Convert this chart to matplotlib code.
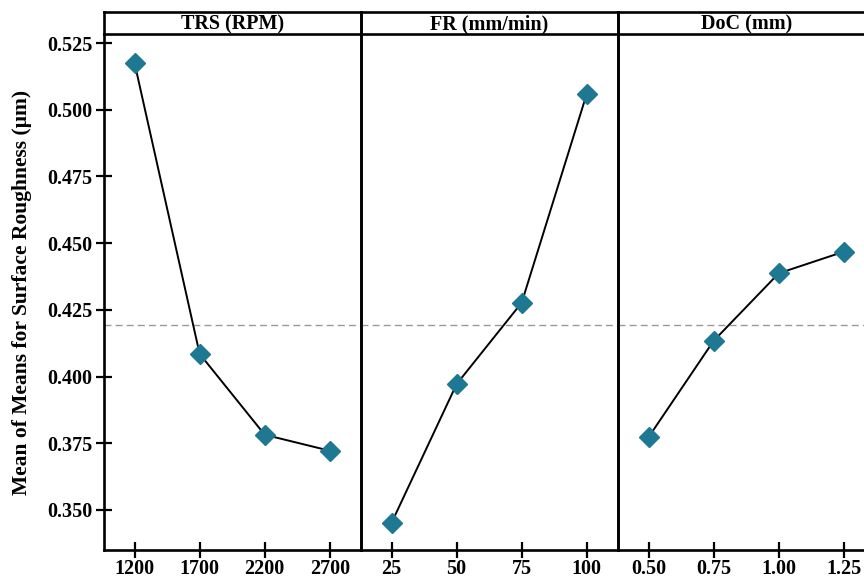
import numpy as np
import matplotlib.pyplot as plt

plt.rcParams['font.family'] = ['Liberation Serif', 'DejaVu Serif']
plt.rcParams['font.weight'] = 'bold'

# Main effects data (means of means)
factors = ['TRS (RPM)', 'FR (mm/min)', 'DoC (mm)']
trs_levels = ['1200', '1700', '2200', '2700']
trs_means = [0.5175, 0.4085, 0.3782, 0.3722]
fr_levels = ['25', '50', '75', '100']
fr_means = [0.3452, 0.3972, 0.4277, 0.5060]
doc_levels = ['0.50', '0.75', '1.00', '1.25']
doc_means = [0.3773, 0.4134, 0.4387, 0.4468]
grand_mean = 0.4193

levels = [trs_levels, fr_levels, doc_levels]
means = [trs_means, fr_means, doc_means]

W, H = 864, 578
fig = plt.figure(figsize=(W / 100, H / 100), dpi=100)

left = 104 / W
pw = 257 / W
bottom = (H - 550) / H
top = (H - 34) / H
strip_h = 22 / H

for i in range(3):
    ax = fig.add_axes([left + i * pw, bottom, pw, top - bottom])
    ax.set_facecolor('none')
    x = np.arange(len(levels[i]))
    ax.plot(x, means[i], color='black', lw=1.4, zorder=2)
    ax.plot(x, means[i], ls='none', marker='D', ms=10, color='#1f7891', zorder=3)
    ax.axhline(grand_mean, color='#999999', ls=(0, (5, 3)), lw=1, zorder=1)
    ax.set_xlim(-0.47, 3.48)
    ax.set_ylim(0.335, 0.5284)
    ax.set_xticks(x)
    ax.set_xticklabels(levels[i], fontsize=14.5, fontweight='bold')
    ax.tick_params(axis='x', direction='inout', length=11, width=1.6, pad=1)
    for s in ax.spines.values():
        s.set_linewidth(1.9)
    ax.spines['top'].set_visible(False)
    if i == 0:
        ax.set_yticks([0.350, 0.375, 0.400, 0.425, 0.450, 0.475, 0.500, 0.525])
        ax.set_yticklabels(['0.350', '0.375', '0.400', '0.425', '0.450', '0.475', '0.500', '0.525'],
                           fontsize=14.5, fontweight='bold')
        ax.tick_params(axis='y', direction='inout', length=11, width=1.6, pad=3)
        ax.set_ylabel('Mean of Means for Surface Roughness (µm)', fontsize=15.5,
                      fontweight='bold', labelpad=11)
    else:
        ax.set_yticks([])
        ax.tick_params(axis='y', left=False)

    sax = fig.add_axes([left + i * pw, top, pw, strip_h])
    sax.set_facecolor('none')
    sax.set_xticks([])
    sax.set_yticks([])
    for s in sax.spines.values():
        s.set_linewidth(1.9)
    sax.text(0.5, 0.45, factors[i], ha='center', va='center', fontsize=14.5,
             fontweight='bold', transform=sax.transAxes)

fig.savefig('out.png', dpi=100)
